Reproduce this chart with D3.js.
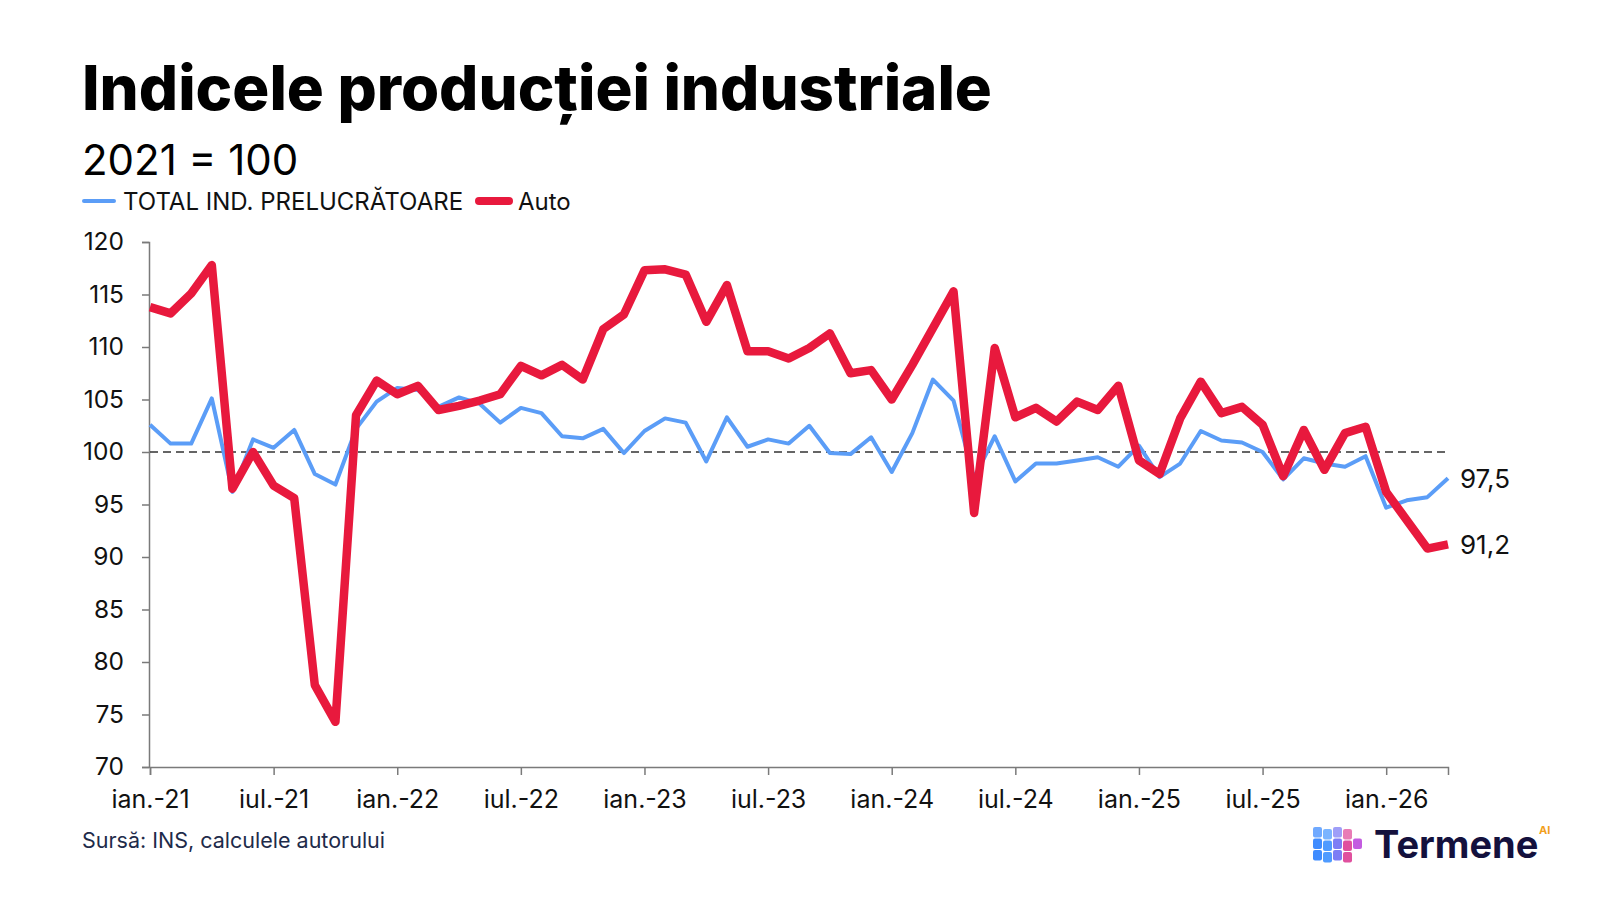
<!DOCTYPE html>
<html>
<head>
<meta charset="utf-8">
<script src="https://cdn.jsdelivr.net/npm/d3@7"></script>
<style>
  body { margin: 0; background: #fff; }
  svg { display: block; font-family: Inter, "Noto Sans", sans-serif; }
</style>
</head>
<body>
<svg id="chart" width="1600" height="900"></svg>
<script>
// monthly index, ian.-21 .. apr.-26 (2021 = 100)
var totalPrel = [102.6, 100.8, 100.8, 105.1, 96.2, 101.2, 100.4, 102.1, 97.9, 96.9,
  102.2, 104.8, 106.1, 105.9, 104.3, 105.2, 104.6, 102.8, 104.2, 103.7,
  101.5, 101.3, 102.2, 99.9, 102.0, 103.2, 102.8, 99.1, 103.3, 100.5,
  101.2, 100.8, 102.5, 99.9, 99.8, 101.4, 98.1, 101.8, 106.9, 104.9,
  97.5, 101.5, 97.2, 98.9, 98.9, 99.2, 99.5, 98.6, 100.6, 97.6,
  98.9, 102.0, 101.1, 100.9, 100.0, 97.4, 99.4, 98.9, 98.6, 99.6,
  94.7, 95.4, 95.7, 97.5];

var auto = [113.8, 113.2, 115.1, 117.8, 96.5, 100.0, 96.8, 95.6, 77.8, 74.3,
  103.5, 106.8, 105.5, 106.3, 104.0, 104.4, 104.9, 105.5, 108.2, 107.3,
  108.3, 106.9, 111.7, 113.1, 117.3, 117.4, 116.9, 112.4, 115.9, 109.6,
  109.6, 108.9, 109.9, 111.3, 107.5, 107.8, 105.0, 108.3, 111.8, 115.3,
  94.2, 109.9, 103.3, 104.2, 102.9, 104.8, 104.0, 106.3, 99.2, 97.9,
  103.2, 106.7, 103.7, 104.3, 102.6, 97.7, 102.1, 98.3, 101.8, 102.4,
  96.2, 93.5, 90.8, 91.2];

var tickLabels = ['ian.-21', 'iul.-21', 'ian.-22', 'iul.-22', 'ian.-23', 'iul.-23',
  'ian.-24', 'iul.-24', 'ian.-25', 'iul.-25', 'ian.-26'];
var yTicks = [70, 75, 80, 85, 90, 95, 100, 105, 110, 115, 120];

var svg = d3.select('#chart');
var blue = '#5b9df7', red = '#e8193d', ink = '#111';

var x = d3.scaleLinear().domain([0, totalPrel.length - 1]).range([150, 1448]);
var y = d3.scaleLinear().domain([70, 120]).range([767, 242]);
var ro = d3.formatLocale({ decimal: ',', thousands: '.', grouping: [3], currency: ['', ''] });
var fmt = ro.format('.1f');

// title + subtitle
var title = svg.append('text')
  .attr('x', 82).attr('y', 110)
  .style('font-weight', 800).style('font-size', '60px').attr('fill', '#000')
  .text('Indicele producției industriale');
var tw = title.node().getComputedTextLength();
title.style('font-size', (60 * 910 / tw) + 'px');

svg.append('text')
  .attr('x', 82).attr('y', 175)
  .style('font-size', '42px').attr('fill', '#000')
  .text('2021 = 100');

// legend
var legend = [
  { name: 'TOTAL IND. PRELUCRĂTOARE', color: blue, w: 4, x: 82 },
  { name: 'Auto', color: red, w: 8, x: 477 }
];
var lg = svg.append('g').selectAll('g').data(legend).enter().append('g')
  .attr('transform', function (d) { return 'translate(' + d.x + ',201)'; });
lg.append('line')
  .attr('x1', 2).attr('x2', 32)
  .attr('stroke', function (d) { return d.color; })
  .attr('stroke-width', function (d) { return d.w; })
  .attr('stroke-linecap', 'round');
lg.append('text')
  .attr('x', 41).attr('dy', '0.36em')
  .style('font-size', '24px').attr('fill', ink)
  .text(function (d) { return d.name; });

// axes
var yAxis = svg.append('g')
  .attr('transform', 'translate(149,0)')
  .call(d3.axisLeft(y).tickValues(yTicks).tickSize(7).tickPadding(18));
var xAxis = svg.append('g')
  .attr('transform', 'translate(0,767)')
  .call(d3.axisBottom(x).tickValues(d3.range(0, totalPrel.length, 6)).tickSize(8).tickPadding(15)
    .tickFormat(function (d, i) { return tickLabels[i]; }));
svg.selectAll('.domain, .tick line').attr('stroke', '#7a7a7a').attr('stroke-width', 1.5);
yAxis.selectAll('text').style('font-size', '24.5px').attr('fill', ink).attr('font-family', 'Inter');
xAxis.selectAll('text').style('font-size', '25px').attr('fill', ink).attr('font-family', 'Inter');

// reference line at 100
svg.append('line')
  .attr('x1', x(0)).attr('x2', x(totalPrel.length - 1))
  .attr('y1', y(100)).attr('y2', y(100))
  .attr('stroke', '#333').attr('stroke-width', 1.3).attr('stroke-dasharray', '8,5');

var line = d3.line()
  .x(function (d, i) { return x(i); })
  .y(function (d) { return y(d); });

svg.append('path').datum(totalPrel)
  .attr('d', line).attr('fill', 'none')
  .attr('stroke', blue).attr('stroke-width', 4).attr('stroke-linejoin', 'round');
svg.append('path').datum(auto)
  .attr('d', line).attr('fill', 'none')
  .attr('stroke', red).attr('stroke-width', 8.5).attr('stroke-linejoin', 'round');

// end value labels
[totalPrel, auto].forEach(function (s) {
  var n = s.length - 1;
  svg.append('text')
    .attr('x', x(n) + 12).attr('y', y(s[n])).attr('dy', '0.36em')
    .style('font-size', '26px').attr('fill', ink)
    .text(fmt(s[n]));
});

// source
svg.append('text')
  .attr('x', 82).attr('y', 848)
  .style('font-size', '21.5px').attr('fill', '#1e2b4a')
  .text('Sursă: INS, calculele autorului');

// logo
var logo = svg.append('g').attr('transform', 'translate(1313,827)');
var cubeColors = ['#3f8cff', '#4f9bff', '#7d7df5', '#e0509e', '#c35ce0'];
var cells = [[0,0],[1,0],[2,0],[3,0],[0,1],[1,1],[2,1],[3,1],[4,1],[0,2],[1,2],[2,2],[3,2]];
logo.selectAll('rect').data(cells).enter().append('rect')
  .attr('x', function (d) { return d[0] * 10; })
  .attr('y', function (d) { return d[1] * 11.5 + (d[0] % 2) * 2; })
  .attr('width', 9).attr('height', 10.5).attr('rx', 2)
  .attr('fill', function (d) { return cubeColors[d[0]]; })
  .attr('opacity', function (d) { return d[1] === 0 ? 0.75 : 1; });
svg.append('text')
  .attr('x', 1374).attr('y', 858)
  .style('font-weight', 700).style('font-size', '38px').attr('fill', '#14113d')
  .text('Termene');
svg.append('text')
  .attr('x', 1539).attr('y', 834)
  .style('font-weight', 700).style('font-size', '11px').attr('fill', '#f2a01c')
  .text('AI');
</script>
</body>
</html>
